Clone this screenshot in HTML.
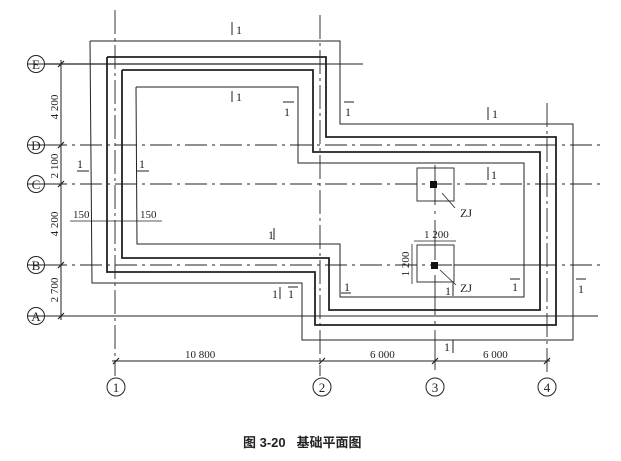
<!DOCTYPE html>
<html><head><meta charset="utf-8"><style>
html,body{margin:0;padding:0;background:#fff;width:621px;height:461px;overflow:hidden}
svg{display:block}
text{font-family:"Liberation Serif",serif;fill:#222}
</style></head><body>
<svg width="621" height="461" viewBox="0 0 621 461" xmlns="http://www.w3.org/2000/svg">
<g stroke="#222" fill="none">
<line x1="45" y1="64" x2="326" y2="64" stroke-width="1.2"/>
<line x1="326" y1="64" x2="363" y2="64" stroke-width="1"/>
<line x1="45" y1="145" x2="600" y2="145" stroke-width="0.9" stroke-dasharray="22,5,3,5"/>
<line x1="45" y1="184" x2="600" y2="184" stroke-width="0.9" stroke-dasharray="22,5,3,5"/>
<line x1="45" y1="265" x2="600" y2="265" stroke-width="0.9" stroke-dasharray="22,5,3,5"/>
<line x1="45" y1="316" x2="598" y2="316" stroke-width="1.1"/>
<line x1="115" y1="10" x2="115" y2="376" stroke-width="0.9" stroke-dasharray="24,4,3,4"/>
<line x1="320" y1="15" x2="320" y2="376" stroke-width="0.9" stroke-dasharray="24,4,3,4"/>
<line x1="435" y1="165" x2="435" y2="376" stroke-width="0.9" stroke-dasharray="40,6,3,6"/>
<line x1="547" y1="103" x2="547" y2="376" stroke-width="0.9" stroke-dasharray="24,4,3,4"/>
<polyline points="90,41 340,41 340,124 573,124 573,340 302,340 302,283 92,283 90,41" stroke-width="1"/>
<polyline points="107,57 326,57 326,137 556,137 556,325 315,325 315,272 107,272 107,57" stroke-width="1.8"/>
<polyline points="122,70 313,70 313,152 540,152 540,310 329,310 329,258 122,258 122,70" stroke-width="1.8"/>
<polyline points="136,87 298,87 298,163 524,163 524,297 340,297 340,244 137,244 136,87" stroke-width="1"/>
<line x1="61" y1="60" x2="61" y2="320" stroke-width="1"/>
<g stroke-width="1.2">
<line x1="58" y1="67" x2="64" y2="61"/><line x1="58" y1="148" x2="64" y2="142"/><line x1="58" y1="187" x2="64" y2="181"/><line x1="58" y1="268" x2="64" y2="262"/><line x1="58" y1="319" x2="64" y2="313"/>
<line x1="113" y1="364" x2="119" y2="358"/><line x1="319" y1="364" x2="325" y2="358"/><line x1="432" y1="364" x2="438" y2="358"/><line x1="544" y1="364" x2="550" y2="358"/>
</g>
<g stroke-width="1">
<line x1="27" y1="64" x2="45" y2="64"/><line x1="27" y1="145" x2="45" y2="145"/><line x1="27" y1="184" x2="45" y2="184"/><line x1="27" y1="265" x2="45" y2="265"/><line x1="27" y1="316" x2="45" y2="316"/>
<circle cx="36" cy="64" r="8.5"/><circle cx="36" cy="145" r="8.5"/><circle cx="36" cy="184" r="8.5"/><circle cx="36" cy="265" r="8.5"/><circle cx="36" cy="316" r="8.5"/>
</g>
<line x1="112" y1="361" x2="550" y2="361" stroke-width="1"/>
<g stroke-width="1">
<circle cx="116" cy="387" r="9"/><circle cx="322" cy="387" r="9"/><circle cx="435" cy="387" r="9"/><circle cx="547" cy="387" r="9"/>
</g>
<line x1="70" y1="221" x2="162" y2="221" stroke-width="0.8"/>
<rect x="417" y="168" width="37" height="33" stroke-width="0.9"/>
<rect x="417" y="245" width="37" height="37" stroke-width="0.9"/>
<line x1="414" y1="241" x2="456" y2="241" stroke-width="0.8"/>
<line x1="412" y1="244" x2="412" y2="284" stroke-width="0.8"/>
<line x1="442" y1="193" x2="455" y2="208" stroke-width="0.8"/>
<line x1="440" y1="270" x2="456" y2="285" stroke-width="0.8"/>
<line x1="454" y1="265" x2="540" y2="265" stroke-width="1"/>
<g stroke-width="1">
<line x1="232" y1="22" x2="232" y2="35"/><line x1="232" y1="91" x2="232" y2="102"/>
<line x1="283" y1="102" x2="294" y2="102"/><line x1="344" y1="102" x2="354" y2="102"/>
<line x1="77" y1="171" x2="89" y2="171"/><line x1="137" y1="171" x2="149" y2="171"/>
<line x1="488" y1="107" x2="488" y2="120"/><line x1="488" y1="167" x2="488" y2="180"/>
<line x1="274" y1="228" x2="274" y2="240"/><line x1="280" y1="287" x2="280" y2="299"/>
<line x1="288" y1="287" x2="298" y2="287"/><line x1="341" y1="293" x2="351" y2="293"/>
<line x1="510" y1="279" x2="520" y2="279"/><line x1="576" y1="279" x2="586" y2="279"/>
<line x1="453" y1="283" x2="453" y2="296"/><line x1="453" y1="340" x2="453" y2="353"/>
</g>
</g>
<rect x="430" y="181" width="7" height="7" fill="#111"/>
<rect x="431" y="262" width="7" height="7" fill="#111"/>
<g font-size="13" text-anchor="middle">
<text x="36" y="69">E</text><text x="36" y="150">D</text><text x="36" y="189">C</text><text x="36" y="270">B</text><text x="36" y="321">A</text>
<text x="116" y="392">1</text><text x="322" y="392">2</text><text x="435" y="392">3</text><text x="547" y="392">4</text>
</g>
<g font-size="12">
<text x="236" y="34">1</text><text x="236" y="101">1</text>
<text x="284" y="116">1</text><text x="345" y="116">1</text>
<text x="77" y="168">1</text><text x="139" y="168">1</text>
<text x="492" y="118">1</text><text x="491" y="179">1</text>
<text x="268" y="239">1</text><text x="272" y="298">1</text><text x="288" y="298">1</text>
<text x="344" y="291">1</text><text x="512" y="291">1</text><text x="578" y="293">1</text>
<text x="445" y="295">1</text><text x="444" y="351">1</text>
</g>
<g font-size="12">
<text x="460" y="217">ZJ</text><text x="460" y="292">ZJ</text>
<text x="424" y="238" font-size="11">1 200</text>
<text x="73" y="218" font-size="11">150</text><text x="140" y="218" font-size="11">150</text>
<text x="185" y="358" font-size="11">10 800</text><text x="370" y="358" font-size="11">6 000</text><text x="483" y="358" font-size="11">6 000</text>
</g>
<g font-size="11">
<text transform="translate(58,107) rotate(-90)" text-anchor="middle">4 200</text>
<text transform="translate(58,166) rotate(-90)" text-anchor="middle">2 100</text>
<text transform="translate(58,224) rotate(-90)" text-anchor="middle">4 200</text>
<text transform="translate(58,290) rotate(-90)" text-anchor="middle">2 700</text>
<text transform="translate(409,264) rotate(-90)" text-anchor="middle">1 200</text>
</g>
<text x="243" y="447" font-size="13" font-weight="bold" fill="#333" style="font-family:'Liberation Sans','Noto Sans CJK SC',sans-serif">图 3-20 &#160; 基础平面图</text>
</svg>
</body></html>
